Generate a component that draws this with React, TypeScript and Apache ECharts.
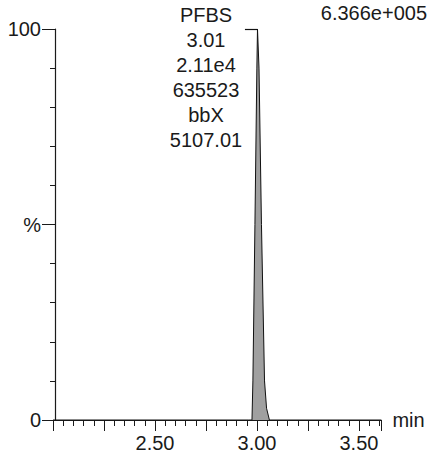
import React, { useEffect, useRef } from "react";
import * as echarts from "echarts";

const times = [2.0, 2.96, 2.9755, 2.98, 2.99, 2.9995, 3.0025, 3.01, 3.022, 3.037, 3.047, 3.061, 3.61];
const intensity = [0, 0, 0, 10, 50, 90, 100, 90, 50, 10, 3, 0, 0];
const peakLabel = ["PFBS", "3.01", "2.11e4", "635523", "bbX", "5107.01"];
const maxIntensity = "6.366e+005";
const xMajorLabels = [2.5, 3.0, 3.5];
const yLabelMap: Record<number, string> = { 0: "0", 50: "%", 100: "100" };

const FONT = "Liberation Sans, Arial, sans-serif";
const INK = "#1a1a1a";
const FS = 20;

export default function App() {
  const ref = useRef<HTMLDivElement>(null);
  useEffect(() => {
    if (!ref.current) return;
    const chart = echarts.init(ref.current, undefined, { renderer: "svg" });
    const data = times.map((t, i) => [t, intensity[i]]);
    const xCommon = {
      type: "value",
      position: "bottom",
      min: 2.0,
      max: 3.61,
      splitLine: { show: false },
    };
    const yCommon = {
      type: "value",
      position: "left",
      min: 0,
      max: 100,
      offset: -2,
      splitLine: { show: false },
    };
    chart.setOption({
      animation: false,
      backgroundColor: "#fff",
      grid: { left: 53, right: 49.6, top: 29, bottom: 36 },
      xAxis: [
        {
          ...xCommon,
          interval: 0.05,
          name: "min",
          nameLocation: "end",
          nameGap: 11,
          nameTextStyle: { color: INK, fontSize: FS, fontFamily: FONT },
          axisLine: { show: true, lineStyle: { color: INK, width: 1.2 } },
          axisTick: { show: true, length: 6, lineStyle: { color: INK } },
          axisLabel: { show: false },
        },
        {
          ...xCommon,
          interval: 0.25,
          axisLine: { show: false },
          axisTick: { show: true, length: 11, lineStyle: { color: INK } },
          axisLabel: {
            show: true,
            margin: 13,
            color: INK,
            fontSize: FS,
            fontFamily: FONT,
            formatter: (v: number) =>
              xMajorLabels.some((m) => Math.abs(m - v) < 1e-6) ? v.toFixed(2) : "",
          },
        },
      ],
      yAxis: [
        {
          ...yCommon,
          interval: 10,
          axisLine: { show: true, lineStyle: { color: INK, width: 1.2 } },
          axisTick: { show: true, length: 5, lineStyle: { color: INK } },
          axisLabel: { show: false },
        },
        {
          ...yCommon,
          interval: 50,
          axisLine: { show: false },
          axisTick: { show: true, length: 13, lineStyle: { color: INK } },
          axisLabel: {
            show: true,
            margin: 14,
            color: INK,
            fontSize: FS,
            fontFamily: FONT,
            formatter: (v: number) => yLabelMap[Math.round(v)] ?? "",
          },
        },
      ],
      series: [
        {
          type: "line",
          xAxisIndex: 0,
          yAxisIndex: 0,
          data,
          symbol: "none",
          lineStyle: { color: "#111", width: 1 },
          areaStyle: { color: "#a0a0a0", opacity: 1 },
          markLine: {
            silent: true,
            symbol: "none",
            label: { show: false },
            lineStyle: { color: "#111", width: 1.2, type: "solid" },
            data: [[{ coord: [2.941, 100] }, { coord: [3.0025, 100] }]],
          },
        },
      ],
      graphic: [
        {
          type: "text",
          x: 206,
          y: 2,
          style: {
            text: peakLabel.join("\n"),
            fill: INK,
            font: `${FS}px ${FONT}`,
            lineHeight: 25,
            align: "center",
            verticalAlign: "top",
          },
        },
        {
          type: "text",
          right: 4,
          y: 3,
          style: {
            text: maxIntensity,
            fill: INK,
            font: `${FS}px ${FONT}`,
          },
        },
      ],
    });
    return () => chart.dispose();
  }, []);
  return <div ref={ref} style={{ width: 431, height: 456, position: "absolute", left: 0, top: 0 }} />;
}
